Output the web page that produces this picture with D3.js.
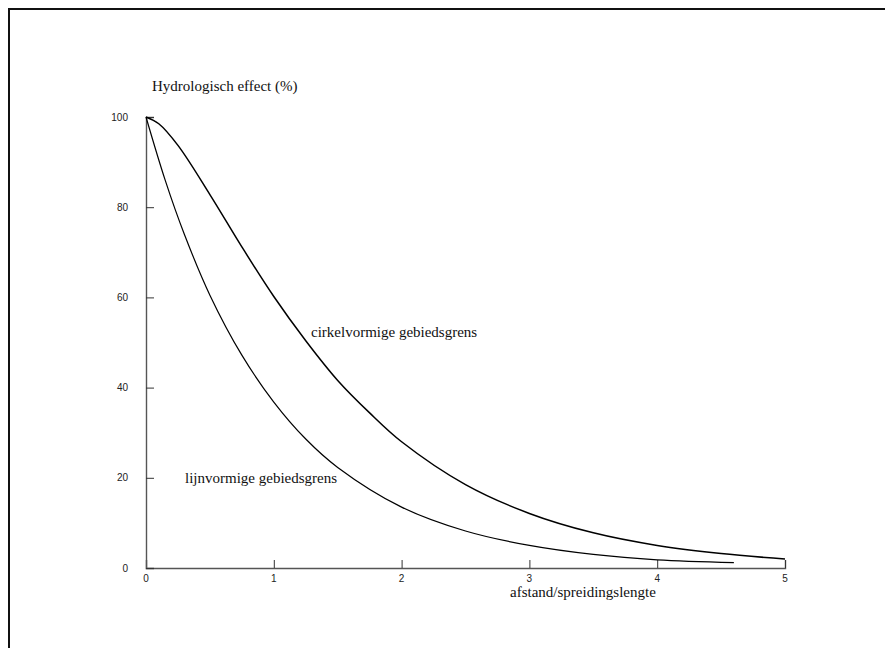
<!DOCTYPE html>
<html>
<head>
<meta charset="utf-8">
<script src="https://cdn.jsdelivr.net/npm/d3@7/dist/d3.min.js"></script>
<style>
  html, body { margin: 0; padding: 0; background: #fff; }
  svg { display: block; }
</style>
</head>
<body>
<svg id="chart" width="885" height="648"></svg>
<script>
// Relative distance (afstand / spreidingslengte) and hydrological effect in %
const circleDist  = [0, 0.1, 0.25, 0.5, 0.75, 1, 1.25, 1.5, 1.75, 2, 2.5, 3, 3.5, 4, 4.5, 5];
const circleValue = [100, 98.5, 93.7, 82.8, 71.2, 60.2, 50.4, 41.6, 34.4, 28, 18.5, 12.1, 7.8, 5, 3.2, 2];
const lineDist    = [0, 0.15, 0.3, 0.5, 0.75, 1, 1.25, 1.5, 2, 2.5, 3, 3.5, 4, 4.6];
const lineValue   = [100, 86, 74, 60.5, 47.2, 36.8, 28.6, 22.3, 13.5, 8.2, 5, 3, 1.8, 1.2];
const xTicks = [0, 1, 2, 3, 4, 5];
const yTicks = [0, 20, 40, 60, 80, 100];

const svg = d3.select("#chart");

// Open frame round the figure
svg.append("path")
  .attr("d", "M9,648V9H885")
  .attr("fill", "none")
  .attr("stroke", "#111")
  .attr("stroke-width", 2);

const x = d3.scaleLinear().domain([0, 5]).range([146, 785]);
const y = d3.scaleLinear().domain([0, 100]).range([568, 117]);

// Axes: ticks point into the plot area
const xAxis = svg.append("g")
  .attr("transform", `translate(0,${y(0)})`)
  .call(d3.axisTop(x).tickValues(xTicks).tickSize(8).tickFormat(""));
const yAxis = svg.append("g")
  .attr("transform", `translate(${x(0)},0)`)
  .call(d3.axisRight(y).tickValues(yTicks).tickSize(8).tickFormat(""));

[xAxis, yAxis].forEach(g => {
  g.select(".domain").attr("stroke", "#555").attr("stroke-width", 1.4);
  g.selectAll(".tick line").attr("stroke", "#333").attr("stroke-width", 1);
});

// Tick labels
const sans = "'Liberation Sans', Arial, sans-serif";
svg.append("g").selectAll("text").data(xTicks).join("text")
  .attr("x", d => x(d))
  .attr("y", y(0) + 14)
  .attr("text-anchor", "middle")
  .attr("font-family", sans)
  .attr("font-size", 10)
  .attr("fill", "#222")
  .text(d => d);

svg.append("g").selectAll("text").data(yTicks).join("text")
  .attr("x", 128)
  .attr("y", d => y(d) + 3.5)
  .attr("text-anchor", "end")
  .attr("font-family", sans)
  .attr("font-size", 10)
  .attr("fill", "#222")
  .text(d => d);

// Curves
const line = d3.line()
  .x(d => x(d[0]))
  .y(d => y(d[1]))
  .curve(d3.curveCatmullRom.alpha(0.5));

svg.append("path")
  .datum(d3.zip(circleDist, circleValue))
  .attr("d", line)
  .attr("fill", "none")
  .attr("stroke", "#000")
  .attr("stroke-width", 1.5);

svg.append("path")
  .datum(d3.zip(lineDist, lineValue))
  .attr("d", line)
  .attr("fill", "none")
  .attr("stroke", "#000")
  .attr("stroke-width", 1.2);

// Titles and curve labels
const serif = "'Liberation Serif', 'Times New Roman', serif";
const labels = [
  { t: "Hydrologisch effect (%)", x: 152, y: 91 },
  { t: "afstand/spreidingslengte", x: 510, y: 597 },
  { t: "cirkelvormige gebiedsgrens", x: 311, y: 337 },
  { t: "lijnvormige gebiedsgrens", x: 185, y: 483 }
];
svg.append("g").selectAll("text").data(labels).join("text")
  .attr("x", d => d.x)
  .attr("y", d => d.y)
  .attr("font-family", serif)
  .attr("font-size", 15)
  .attr("fill", "#111")
  .text(d => d.t);
</script>
</body>
</html>
